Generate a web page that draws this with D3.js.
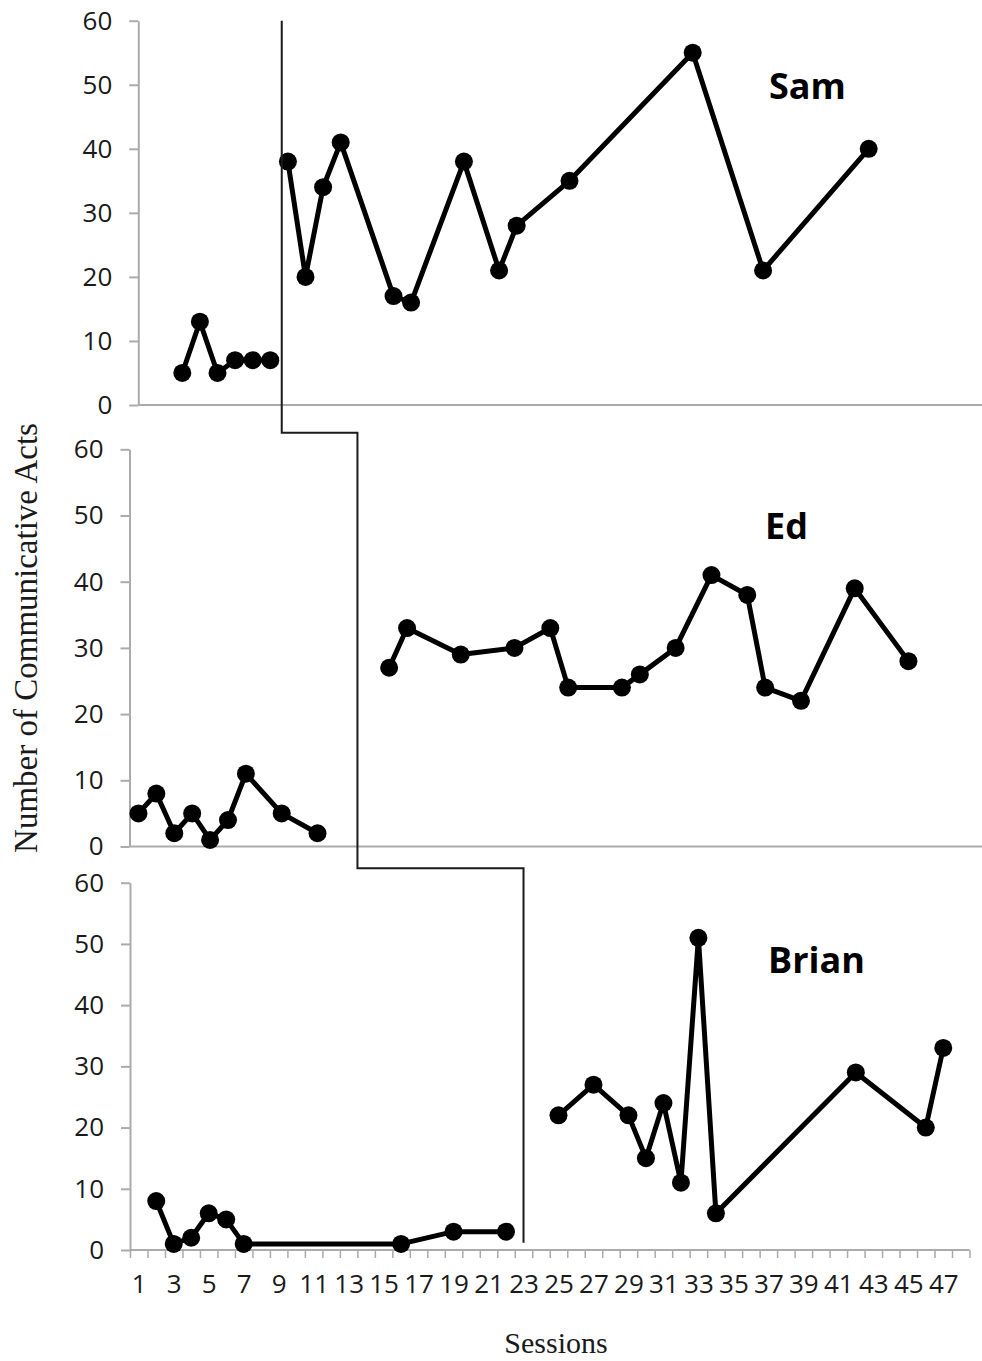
<!DOCTYPE html>
<html>
<head>
<meta charset="utf-8">
<script src="https://cdn.jsdelivr.net/npm/d3@7/dist/d3.min.js"></script>
<style>
  html, body { margin: 0; padding: 0; background: #fff; }
  svg { display: block; }
  .tick text { font-family: "Open Sans", sans-serif; fill: #1a1a1a; }
</style>
</head>
<body>
<svg id="chart" width="982" height="1361"></svg>
<script>
// ---------------- DATA ----------------
const participants = ["Sam", "Ed", "Brian"];

const samBaselineSessions  = [3, 4, 5, 6, 7, 8];
const samBaselineValues    = [5, 13, 5, 7, 7, 7];
const samTreatmentSessions = [9, 10, 11, 12, 15, 16, 19, 21, 22, 25, 32, 36, 42];
const samTreatmentValues   = [38, 20, 34, 41, 17, 16, 38, 21, 28, 35, 55, 21, 40];

const edBaselineSessions   = [1, 2, 3, 4, 5, 6, 7, 9, 11];
const edBaselineValues     = [5, 8, 2, 5, 1, 4, 11, 5, 2];
const edTreatmentSessions  = [15, 16, 19, 22, 24, 25, 28, 29, 31, 33, 35, 36, 38, 41, 44];
const edTreatmentValues    = [27, 33, 29, 30, 33, 24, 24, 26, 30, 41, 38, 24, 22, 39, 28];

const brianBaselineSessions  = [2, 3, 4, 5, 6, 7, 16, 19, 22];
const brianBaselineValues    = [8, 1, 2, 6, 5, 1, 1, 3, 3];
const brianTreatmentSessions = [25, 27, 29, 30, 31, 32, 33, 34, 42, 46, 47];
const brianTreatmentValues   = [22, 27, 22, 15, 24, 11, 51, 6, 29, 20, 33];

const yTickValues  = [0, 10, 20, 30, 40, 50, 60];
const xTickLabels  = [1, 3, 5, 7, 9, 11, 13, 15, 17, 19, 21, 23, 25, 27, 29, 31, 33, 35, 37, 39, 41, 43, 45, 47];
const sessionCount = 48;

// phase-change line position (in sessions) for each panel
const phaseChangeSessions = [8.65, 13.23, 23];

const yTitle = "Number of Communicative Acts";
const xTitle = "Sessions";

// ---------------- LAYOUT ----------------
const svg = d3.select("#chart");
const W = 982;

const panels = [
  { name: participants[0], xr: [138.3, 983.1], yr: [405, 20.7],   base: [samBaselineSessions, samBaselineValues],   treat: [samTreatmentSessions, samTreatmentValues],   label: [769, 99],  axisRight: W },
  { name: participants[1], xr: [129.5, 989],   yr: [846.5, 449.3], base: [edBaselineSessions, edBaselineValues],     treat: [edTreatmentSessions, edTreatmentValues],     label: [765, 539], axisRight: W },
  { name: participants[2], xr: [130, 969.5],   yr: [1250, 882.7],  base: [brianBaselineSessions, brianBaselineValues], treat: [brianTreatmentSessions, brianTreatmentValues], label: [768, 973], axisRight: 969.5 }
];

const axisColor = "#ababab";

panels.forEach((p, i) => {
  p.x = d3.scaleLinear().domain([0.5, sessionCount + 0.5]).range(p.xr);
  p.y = d3.scaleLinear().domain([0, 60]).range(p.yr);
  const g = svg.append("g");

  // y axis
  const yAxis = d3.axisLeft(p.y).tickValues(yTickValues).tickSize(9).tickSizeOuter(0).tickPadding(17);
  const ya = g.append("g").attr("transform", `translate(${p.xr[0]},0)`).call(yAxis);
  ya.selectAll("path, line").attr("stroke", axisColor).attr("stroke-width", 2);
  ya.selectAll("text").style("font-size", "26px");

  // x axis line
  g.append("line")
    .attr("x1", p.xr[0]).attr("x2", p.axisRight)
    .attr("y1", p.y(0)).attr("y2", p.y(0))
    .attr("stroke", axisColor).attr("stroke-width", 2);

  if (i === 2) {
    const bounds = d3.range(0, sessionCount + 1).map(k => k + 0.5);
    const xt = d3.axisBottom(p.x).tickValues(bounds).tickFormat("").tickSize(8).tickSizeOuter(0);
    const xa = g.append("g").attr("transform", `translate(0,${p.y(0)})`).call(xt);
    xa.select("path").remove();
    xa.selectAll("line").attr("stroke", axisColor).attr("stroke-width", 1.5);

    const xl = d3.axisBottom(p.x).tickValues(xTickLabels).tickSize(0).tickPadding(25);
    const xla = g.append("g").attr("transform", `translate(0,${p.y(0)})`).call(xl);
    xla.select("path").remove();
    xla.selectAll("text").style("font-size", "26px");
  }

  // series
  const line = d3.line().x(d => p.x(d.s)).y(d => p.y(d.v));
  [p.base, p.treat].forEach(([ss, vs]) => {
    const pts = ss.map((s, j) => ({ s, v: vs[j] }));
    g.append("path").datum(pts)
      .attr("d", line).attr("fill", "none")
      .attr("stroke", "#000").attr("stroke-width", 5).attr("stroke-linejoin", "round");
    g.selectAll(null).data(pts).enter().append("circle")
      .attr("cx", d => p.x(d.s)).attr("cy", d => p.y(d.v)).attr("r", 9).attr("fill", "#000");
  });

  // participant label
  g.append("text")
    .attr("x", p.label[0]).attr("y", p.label[1])
    .attr("font-family", "'Open Sans', sans-serif").attr("font-weight", "bold")
    .attr("font-size", 36).attr("fill", "#000")
    .text(p.name);
});

// ---------------- PHASE-CHANGE LINE ----------------
const [pt, pm, pb] = panels;
const xTop = pt.x(phaseChangeSessions[0]);
const xMid = pm.x(phaseChangeSessions[1]);
const xBot = pb.x(phaseChangeSessions[2]);
const yLink1 = pm.y(62.5);
const yLink2 = pb.y(62.35);
const phasePath = d3.path();
phasePath.moveTo(xTop, pt.y(60));
phasePath.lineTo(xTop, yLink1);
phasePath.lineTo(xMid, yLink1);
phasePath.lineTo(xMid, yLink2);
phasePath.lineTo(xBot, yLink2);
phasePath.lineTo(xBot, pb.y(1.2));
svg.append("path").attr("d", phasePath.toString())
  .attr("fill", "none").attr("stroke", "#1a1a1a").attr("stroke-width", 2);

// ---------------- TITLES ----------------
svg.append("text")
  .attr("transform", "translate(37,638) rotate(-90)")
  .attr("text-anchor", "middle")
  .attr("font-family", "'Liberation Serif', 'Times New Roman', serif")
  .attr("font-size", 33).attr("fill", "#1a1a1a")
  .text(yTitle);

svg.append("text")
  .attr("x", 556).attr("y", 1353)
  .attr("text-anchor", "middle")
  .attr("font-family", "'Liberation Serif', 'Times New Roman', serif")
  .attr("font-size", 30).attr("fill", "#1a1a1a")
  .text(xTitle);
</script>
</body>
</html>
